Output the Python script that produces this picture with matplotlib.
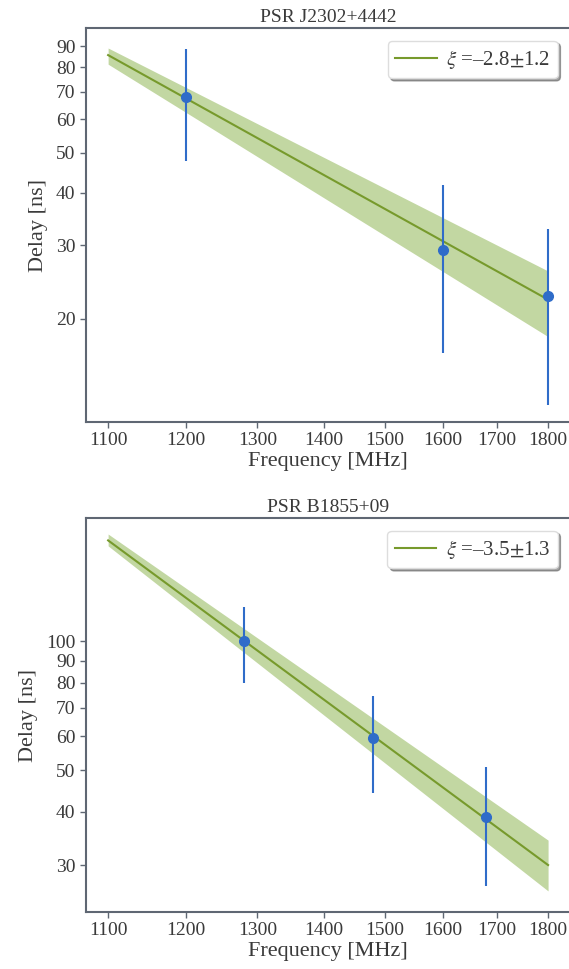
import matplotlib
matplotlib.use("Agg")
import matplotlib.pyplot as plt
import numpy as np
from matplotlib.ticker import FixedLocator, NullLocator, FixedFormatter

plt.rcParams['font.family'] = ['Liberation Serif', 'DejaVu Serif']
plt.rcParams['mathtext.fontset'] = 'stix'

spine_col = '#5f6773'
text_col = '#3a3a3a'
pt_col = '#2f6cc9'
line_col = '#779a2c'
band_col = '#c2d7a2'

# PSR J2302+4442
freq1 = [1200, 1600, 1800]
delay1 = [68, 29.2, 22.6]
err1 = [20.3, 12.7, 10.2]
fit_f1 = [1100, 1800]
fit_d1 = [85.6, 22.2]
band_lo1 = [81.4, 18.1]
band_hi1 = [89.0, 26.0]
yt1 = [20, 30, 40, 50, 60, 70, 80, 90]
ylim1 = (11.3, 99.4)
lab1 = r'$\xi$ =–2.8$\pm$1.2'

# PSR B1855+09
freq2 = [1280, 1480, 1680]
delay2 = [100, 59.3, 38.8]
err2 = [20, 15, 12]
fit_f2 = [1100, 1800]
fit_d2 = [172, 30]
band_lo2 = [167, 26.1]
band_hi2 = [178, 34.3]
yt2 = [30, 40, 50, 60, 70, 80, 90, 100]
ylim2 = (23.3, 194)
lab2 = r'$\xi$ =–3.5$\pm$1.3'

xt = [1100, 1200, 1300, 1400, 1500, 1600, 1700, 1800]

fig = plt.figure(figsize=(5.69, 9.69), dpi=100)
ax1 = fig.add_axes([0.151, 0.5645, 0.851, 0.4066])
ax2 = fig.add_axes([0.151, 0.0588, 0.851, 0.4066])

panels = [
    (ax1, freq1, delay1, err1, fit_f1, fit_d1, band_lo1, band_hi1, yt1, ylim1, lab1, 'PSR J2302+4442'),
    (ax2, freq2, delay2, err2, fit_f2, fit_d2, band_lo2, band_hi2, yt2, ylim2, lab2, 'PSR B1855+09'),
]

for ax, f, d, e, ff, fd, blo, bhi, yt, yl, lab, title in panels:
    ax.set_xscale('log')
    ax.set_yscale('log')
    ax.fill_between(ff, blo, bhi, color=band_col, lw=0, zorder=1)
    ax.plot(ff, fd, color=line_col, lw=1.5, label=lab, zorder=2)
    ax.errorbar(f, d, yerr=e, fmt='o', color=pt_col, ms=7, elinewidth=1.5, capsize=0, zorder=3)
    ax.set_xlim(1073, 1845)
    ax.set_ylim(*yl)
    ax.xaxis.set_major_locator(FixedLocator(xt))
    ax.xaxis.set_major_formatter(FixedFormatter([str(v) for v in xt]))
    ax.xaxis.set_minor_locator(NullLocator())
    ax.yaxis.set_major_locator(FixedLocator(yt))
    ax.yaxis.set_major_formatter(FixedFormatter([str(v) for v in yt]))
    ax.yaxis.set_minor_locator(NullLocator())
    for s in ax.spines.values():
        s.set_color(spine_col)
        s.set_linewidth(1.5)
    ax.tick_params(axis='both', colors=spine_col, labelcolor=text_col, labelsize=14,
                   length=4, width=1, direction='out')
    ax.set_xlabel('Frequency [MHz]', fontsize=16, color=text_col, labelpad=2)
    ax.set_ylabel('Delay [ns]', fontsize=16, color=text_col, labelpad=6)
    ax.set_title(title, fontsize=14, color=text_col, pad=4)
    leg = ax.legend(loc='upper right', fontsize=15, shadow=True, fancybox=True,
                    handlelength=2.0, handletextpad=0.45, borderpad=0.35,
                    borderaxespad=0.6)
    leg.get_frame().set_edgecolor('#dddddd')
    for t in leg.get_texts():
        t.set_color(text_col)

fig.savefig('out.png', dpi=100)
